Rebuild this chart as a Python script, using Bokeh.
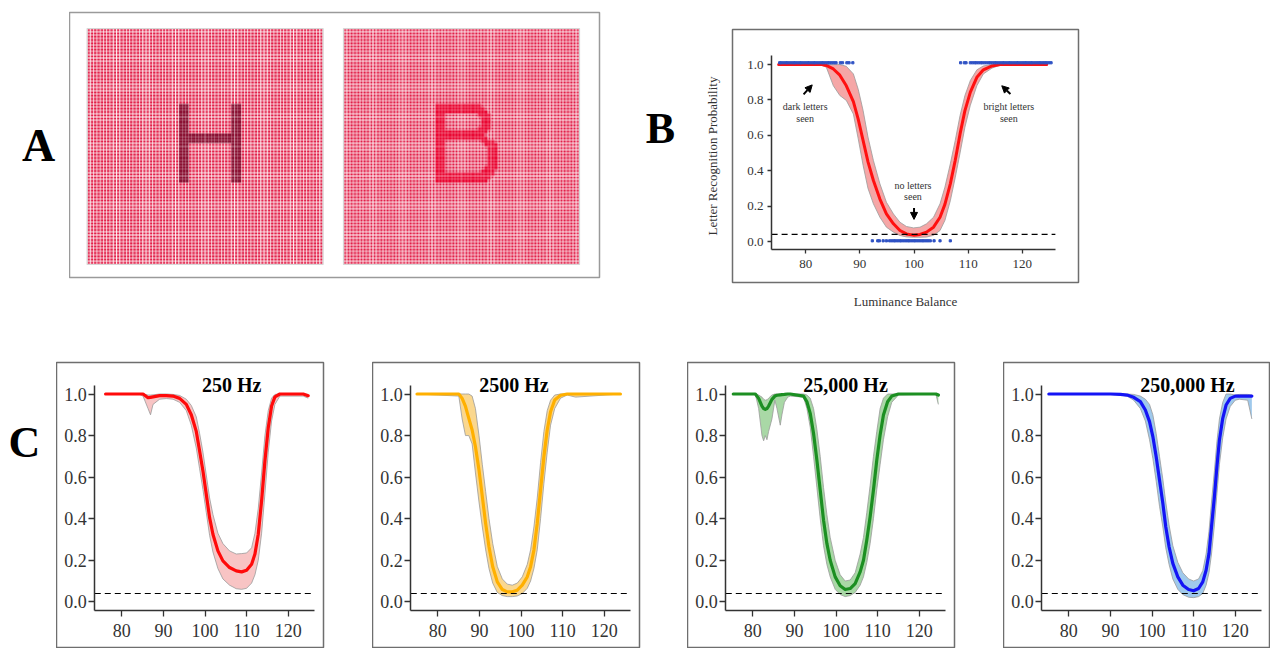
import numpy as np
from bokeh.plotting import figure
from bokeh.layouts import row, column
from bokeh.models import (Range1d, LinearAxis, FixedTicker, PrintfTickFormatter,
                          Label, Arrow, NormalHead)
from bokeh.embed import file_html
from bokeh.resources import INLINE

SERIF = "Liberation Serif"
INK = "#333333"

# ------------------------------------------------------------------ data
X_TICKS = [80, 90, 100, 110, 120]
Y_TICKS = [0.0, 0.2, 0.4, 0.6, 0.8, 1.0]
CHANCE = 0.04

# Panel A stimulus (72 x 72 dot grid, letters as dot bitmaps)
N_DOTS = 72
LETTER_ROW = 23
LETTER_COL = 28
H_BITMAP = [
    "###.............###",
    "###.............###",
    "###.............###",
    "###.............###",
    "###.............###",
    "###.............###",
    "###.............###",
    "###.............###",
    "###.............###",
    "###################",
    "###################",
    "###################",
    "###.............###",
    "###.............###",
    "###.............###",
    "###.............###",
    "###.............###",
    "###.............###",
    "###.............###",
    "###.............###",
    "###.............###",
    "###.............###",
    "###.............###",
    "###.............###",
]
B_BITMAP = [
    "##############.....",
    "###############....",
    "################...",
    "###..........####..",
    "###...........###..",
    "###...........###..",
    "###...........###..",
    "###..........####..",
    "################...",
    "###############....",
    "################...",
    "###...........####.",
    "###............####",
    "###.............###",
    "###.............###",
    "###.............###",
    "###.............###",
    "###.............###",
    "###.............###",
    "###............####",
    "###...........####.",
    "##################.",
    "#################..",
    "################...",
]

# Panel B
B_X = [75.0, 83.0, 83.8, 85.1, 86.3, 87.5, 88.8, 89.7, 90.6, 91.5,
       92.5, 93.7, 94.9, 96.2, 97.4, 98.6, 99.9, 101.1, 102.3, 103.6,
       104.8, 105.7, 106.7, 107.6, 108.5, 109.4, 110.4, 111.6, 112.8, 114.4,
       115.9, 124.5]
B_MEAN = [1.0, 1.0, 0.995, 0.975, 0.94, 0.88, 0.79, 0.69, 0.57, 0.45,
          0.345, 0.24, 0.156, 0.10, 0.062, 0.043, 0.036, 0.04, 0.053, 0.081,
          0.137, 0.21, 0.326, 0.458, 0.608, 0.74, 0.844, 0.928, 0.97, 0.992,
          1.0, 1.0]
B_LO = [1.0, 0.995, 0.985, 0.88, 0.825, 0.797, 0.72, 0.58, 0.43, 0.30,
        0.213, 0.137, 0.081, 0.053, 0.034, 0.026, 0.024, 0.024, 0.025, 0.035,
        0.062, 0.119, 0.23, 0.36, 0.50, 0.646, 0.77, 0.88, 0.947, 0.98,
        0.996, 1.0]
B_HI = [1.0, 1.0, 1.0, 1.0, 1.0, 0.99, 0.947, 0.86, 0.74, 0.59,
        0.458, 0.326, 0.222, 0.156, 0.109, 0.085, 0.077, 0.081, 0.10, 0.137,
        0.213, 0.307, 0.439, 0.57, 0.712, 0.825, 0.91, 0.97, 0.992, 1.0,
        1.0, 1.0]
# individual trials (seen = top row, not seen = bottom row)
B_SEEN_X = [75.2, 75.5, 75.9, 76.3, 76.6, 77.0, 77.4, 77.8, 78.1, 78.5, 78.9, 79.2,
            79.6, 80.0, 80.4, 80.7, 81.1, 81.5, 81.8, 82.2, 82.6, 83.0, 83.3, 83.7,
            84.1, 84.4, 84.8, 85.2, 85.6, 86.4, 86.8, 87.6, 88.0, 88.7,
            108.6, 109.3, 109.6, 110.4, 110.8, 111.2, 111.5, 111.9, 112.3, 112.6, 113.0,
            113.4, 113.8, 114.1, 114.5, 114.9, 115.2, 115.6, 116.0, 116.4, 116.7, 117.1,
            117.5, 117.8, 118.2, 118.6, 119.0, 119.3, 119.7, 120.1, 120.5, 120.8, 121.2,
            121.6, 121.9, 122.3, 122.7, 123.1, 123.4, 123.8, 124.2, 124.5, 124.9, 125.3]
B_UNSEEN_X = [92.3, 93.3, 93.6, 94.3, 94.9, 95.5, 95.9, 96.3, 96.6, 97.0, 97.4, 97.7,
              98.1, 98.5, 98.9, 99.2, 99.6, 100.0, 100.3, 100.7, 101.1, 101.5, 101.8,
              102.2, 102.6, 103.0, 103.7, 104.8, 106.7]
SEEN_Y = 1.01
UNSEEN_Y = 0.004

# Panel C
C_TITLES = ["250 Hz", "2500 Hz", "25,000 Hz", "250,000 Hz"]
C_LINE = ["#ff0a0a", "#ffb000", "#1c8f22", "#1414f5"]
C_FILL = ["#f8c4c4", "#fad78e", "#a9d8a6", "#9fc9ec"]

C1_X = [76.1, 84.3, 85.1, 86.3, 86.9, 87.5, 89.1, 90.7, 92.3, 93.9,
        95.5, 96.7, 97.9, 98.7, 99.5, 100.3, 101.1, 101.9, 103.1, 104.3,
        105.9, 107.5, 108.8, 110.0, 111.2, 112.0, 112.8, 113.6, 114.4, 115.2,
        116.0, 116.8, 118.0, 123.6, 124.8]
C1_MEAN = [1.0, 1.0, 1.0, 0.982, 0.984, 0.986, 0.992, 0.992, 0.99, 0.979,
           0.95, 0.90, 0.82, 0.726, 0.63, 0.518, 0.405, 0.325, 0.245, 0.197,
           0.165, 0.149, 0.144, 0.152, 0.181, 0.23, 0.325, 0.486, 0.678, 0.838,
           0.942, 0.986, 1.0, 1.0, 0.992]
C1_HI = [1.0, 1.0, 1.0, 0.995, 0.995, 0.996, 1.0, 1.0, 0.998, 0.993,
         0.975, 0.945, 0.89, 0.81, 0.72, 0.61, 0.50, 0.42, 0.33, 0.28,
         0.245, 0.23, 0.232, 0.235, 0.26, 0.33, 0.45, 0.62, 0.80, 0.92,
         0.98, 0.998, 1.0, 1.0, 0.998]
C1_LO = [1.0, 0.998, 0.99, 0.93, 0.90, 0.95, 0.975, 0.978, 0.975, 0.96,
         0.92, 0.85, 0.74, 0.64, 0.54, 0.43, 0.32, 0.24, 0.16, 0.11,
         0.08, 0.063, 0.06, 0.065, 0.09, 0.13, 0.20, 0.33, 0.52, 0.72,
         0.87, 0.95, 0.99, 0.99, 0.98]

C2_X = [75.0, 85.05, 85.85, 86.65, 87.45, 88.25, 89.05, 89.9, 90.7, 91.5,
        92.3, 93.2, 94.3, 95.5, 96.7, 97.9, 99.1, 100.3, 101.5, 102.3,
        103.1, 103.9, 104.7, 105.5, 106.3, 107.1, 108.1, 109.5, 111.1, 113.1,
        123.9]
C2_MEAN = [1.0, 1.0, 0.979, 0.94, 0.883, 0.827, 0.746, 0.634, 0.506, 0.377,
           0.265, 0.169, 0.096, 0.059, 0.048, 0.048, 0.056, 0.08, 0.12, 0.169,
           0.249, 0.377, 0.538, 0.698, 0.827, 0.915, 0.971, 0.994, 1.0, 1.0,
           1.0]
C2_HI = [1.0, 1.0, 1.0, 1.0, 1.0, 0.99, 0.93, 0.80, 0.66, 0.53,
         0.40, 0.28, 0.17, 0.11, 0.085, 0.08, 0.09, 0.12, 0.18, 0.25,
         0.36, 0.50, 0.67, 0.82, 0.92, 0.97, 0.995, 1.0, 1.0, 1.0,
         1.0]
C2_LO = [1.0, 0.99, 0.88, 0.80, 0.80, 0.76, 0.62, 0.48, 0.36, 0.25,
         0.16, 0.09, 0.045, 0.03, 0.025, 0.025, 0.028, 0.04, 0.065, 0.10,
         0.16, 0.25, 0.40, 0.57, 0.72, 0.85, 0.93, 0.98, 0.995, 0.985,
         1.0]

C3_X = [75.3, 80.6, 81.4, 82.2, 82.6, 83.0, 83.4, 83.8, 84.6, 85.3,
        85.8, 86.6, 87.0, 87.6, 88.4, 89.0, 92.2, 93.0, 93.8, 94.6,
        95.4, 96.2, 97.0, 97.8, 98.6, 99.8, 101.0, 102.2, 103.4, 104.6,
        105.8, 106.6, 107.4, 108.2, 109.0, 109.8, 110.6, 111.4, 112.4, 113.4,
        115.0, 124.0, 124.6]
C3_MEAN = [1.0, 1.0, 0.979, 0.942, 0.93, 0.926, 0.93, 0.942, 0.974, 0.99,
           0.994, 0.996, 0.997, 0.998, 1.0, 1.0, 0.99, 0.963, 0.907, 0.81,
           0.682, 0.538, 0.393, 0.281, 0.2, 0.12, 0.077, 0.059, 0.064, 0.088,
           0.144, 0.2, 0.297, 0.409, 0.538, 0.682, 0.803, 0.899, 0.963, 0.99,
           1.0, 1.0, 0.995]
C3_HI = [1.0, 1.0, 0.995, 0.985, 0.975, 0.97, 0.972, 0.98, 0.995, 1.0,
         1.0, 1.0, 1.0, 1.0, 1.0, 1.0, 1.0, 0.995, 0.98, 0.93,
         0.83, 0.70, 0.55, 0.42, 0.31, 0.20, 0.13, 0.10, 0.105, 0.14,
         0.23, 0.31, 0.43, 0.56, 0.70, 0.82, 0.93, 0.98, 1.0, 1.0,
         1.0, 1.0, 1.0]
C3_LO = [1.0, 1.0, 0.93, 0.80, 0.775, 0.80, 0.78, 0.82, 0.88, 0.97,
         0.93, 0.85, 0.90, 0.96, 0.985, 0.99, 0.985, 0.93, 0.84, 0.70,
         0.55, 0.40, 0.27, 0.18, 0.12, 0.06, 0.035, 0.025, 0.03, 0.045,
         0.08, 0.12, 0.19, 0.28, 0.40, 0.54, 0.66, 0.78, 0.89, 0.96,
         0.995, 1.0, 0.95]

C4_X = [75.2, 90.0, 92.4, 94.0, 95.6, 97.2, 98.4, 99.4, 100.2, 101.0,
        101.8, 102.6, 103.3, 104.1, 105.0, 106.2, 107.4, 108.8, 110.0, 111.2,
        112.2, 113.0, 113.7, 114.3, 115.0, 115.6, 116.2, 117.0, 117.8, 118.8,
        120.0, 121.0, 123.0, 124.0]
C4_MEAN = [1.0, 1.0, 0.998, 0.995, 0.984, 0.963, 0.923, 0.867, 0.795, 0.698,
           0.586, 0.474, 0.361, 0.265, 0.185, 0.12, 0.08, 0.059, 0.053, 0.064,
           0.096, 0.152, 0.233, 0.361, 0.506, 0.65, 0.778, 0.883, 0.947, 0.979,
           0.99, 0.99, 0.99, 0.99]
C4_HI = [1.0, 1.0, 1.0, 1.0, 0.998, 0.99, 0.975, 0.95, 0.90, 0.81,
         0.70, 0.59, 0.48, 0.37, 0.27, 0.19, 0.14, 0.11, 0.10, 0.11,
         0.15, 0.23, 0.34, 0.48, 0.63, 0.77, 0.88, 0.96, 1.0, 1.0,
         0.995, 0.998, 0.998, 0.995]
C4_LO = [1.0, 0.998, 0.995, 0.99, 0.97, 0.93, 0.87, 0.78, 0.69, 0.58,
         0.46, 0.36, 0.26, 0.18, 0.11, 0.06, 0.035, 0.022, 0.02, 0.025,
         0.04, 0.08, 0.14, 0.23, 0.37, 0.52, 0.66, 0.79, 0.88, 0.94,
         0.97, 0.975, 0.97, 0.88]

C_DATA = [(C1_X, C1_MEAN, C1_LO, C1_HI), (C2_X, C2_MEAN, C2_LO, C2_HI),
          (C3_X, C3_MEAN, C3_LO, C3_HI), (C4_X, C4_MEAN, C4_LO, C4_HI)]
for xs, m, lo, hi in C_DATA + [(B_X, B_MEAN, B_LO, B_HI)]:
    assert len(xs) == len(m) == len(lo) == len(hi)

TOP_H = 345
BOT_H = 303

# ------------------------------------------------------------------ helpers
def base_fig(width, height, xr, yr, left, right, top, bottom, outline="#6e6e6e"):
    p = figure(width=width, height=height, x_range=Range1d(*xr), y_range=Range1d(*yr),
               output_backend="svg", toolbar_location=None,
               x_axis_type=None, y_axis_type=None,
               min_border_left=left, min_border_right=right,
               min_border_top=top, min_border_bottom=bottom)
    p.frame_align = False
    p.outline_line_color = outline
    p.outline_line_width = 1.5
    p.border_fill_color = "white"
    p.background_fill_color = "white"
    return p


def letter_fig(width, height, x, y, text, size):
    p = base_fig(width, height, (0, width), (0, height), 0, 0, 0, 0, outline=None)
    p.add_layout(Label(x=x, y=height - y, text=text, text_font=SERIF,
                       text_font_style="bold", text_font_size=size, text_color="black",
                       text_align="center", text_baseline="middle"))
    return p


def add_axes(p, xloc, yloc, xbounds, ybounds, fsize, tick, xstand, ystand):
    yax = LinearAxis(fixed_location=xloc, bounds=ybounds,
                     ticker=FixedTicker(ticks=Y_TICKS),
                     formatter=PrintfTickFormatter(format="%.1f"))
    xax = LinearAxis(fixed_location=yloc, bounds=xbounds,
                     ticker=FixedTicker(ticks=X_TICKS))
    for ax in (yax, xax):
        ax.axis_line_color = INK
        ax.axis_line_width = 1.5
        ax.major_tick_line_color = INK
        ax.major_tick_line_width = 1.3
        ax.major_tick_out = tick
        ax.major_tick_in = 0
        ax.minor_tick_out = 0
        ax.minor_tick_in = 0
        ax.major_label_text_font = SERIF
        ax.major_label_text_font_size = fsize
        ax.major_label_text_color = INK
    yax.major_label_standoff = ystand
    xax.major_label_standoff = xstand
    p.add_layout(yax, "left")
    p.add_layout(xax, "below")


def draw_curve(p, xs, mean, lo, hi, line_color, fill_color, lw):
    p.varea(x=xs, y1=lo, y2=hi, fill_color=fill_color, fill_alpha=1.0)
    p.line(xs, lo, line_color="#9a9a9a", line_width=0.8)
    p.line(xs, hi, line_color="#9a9a9a", line_width=0.8)
    p.line(xs, mean, line_color=line_color, line_width=lw,
           line_join="round", line_cap="round")

# ------------------------------------------------------------------ panel A
BG_DOT = np.array([226, 30, 72], float)
H_DOT = np.array([138, 16, 50], float)
B_DOT = np.array([234, 6, 50], float)
SQ = 236


def stimulus(bitmap, letter_rgb, size=SQ, ss=4):
    mask = np.zeros((N_DOTS, N_DOTS), bool)
    for r, line in enumerate(bitmap):
        for c, ch in enumerate(line):
            if ch == "#":
                mask[LETTER_ROW + r, LETTER_COL + c] = True
    m = size * ss
    t = (np.arange(m) + 0.5) / m * N_DOTS
    idx = np.floor(t).astype(int)
    d = np.abs(t - idx - 0.5)
    dist = np.maximum(d[:, None], d[None, :])
    inl = mask[idx[:, None], idx[None, :]]
    covered = np.where(inl, dist < 0.46, dist < 0.37)
    col = np.where(inl[..., None], letter_rgb, BG_DOT)
    rgb = np.where(covered[..., None], col, 255.0)
    rgb = rgb.reshape(size, ss, size, ss, 3).mean(axis=(1, 3))
    rgb = np.flipud(rgb)
    img = np.empty((size, size), dtype=np.uint32)
    view = img.view(dtype=np.uint8).reshape((size, size, 4))
    view[..., :3] = np.clip(rgb, 0, 255).astype(np.uint8)
    view[..., 3] = 255
    return img


fA = letter_fig(69, TOP_H, 38, 145, "A", "46px")
pA = base_fig(571, TOP_H, (0, 530), (0, 265), 0, 41, 12, 68, outline="#9a9a9a")
imgH = stimulus(H_BITMAP, H_DOT)
imgB = stimulus(B_BITMAP, B_DOT)
SQ_LEFT = [17.6, 274.0]
SQ_BOTTOM = 13.0
pA.image_rgba(image=[imgH], x=SQ_LEFT[0], y=SQ_BOTTOM, dw=SQ, dh=SQ)
pA.image_rgba(image=[imgB], x=SQ_LEFT[1], y=SQ_BOTTOM, dw=SQ, dh=SQ)
pA.quad(left=SQ_LEFT, right=[v + SQ for v in SQ_LEFT], bottom=SQ_BOTTOM, top=SQ_BOTTOM + SQ,
        fill_color=None, line_color="#d6d6d6", line_width=1.2)

# ------------------------------------------------------------------ panel B
fB = letter_fig(61, TOP_H, 20, 128, "B", "44px")
pB = base_fig(569, TOP_H, (66.48, 130.37), (-0.2316, 1.198), 0, 192, 29, 63)
add_axes(pB, 73.7, -0.045, (73.7, 126.1), (-0.045, 1.05), "13px", 4, 7, 4)
ylab = LinearAxis(ticker=FixedTicker(ticks=[]), axis_label="Letter Recognition Probability")
xlab = LinearAxis(ticker=FixedTicker(ticks=[]), axis_label="Luminance Balance")
for ax in (ylab, xlab):
    ax.axis_line_color = None
    ax.major_tick_out = 0
    ax.major_tick_in = 0
    ax.major_label_text_font_size = "0px"
    ax.axis_label_text_font = SERIF
    ax.axis_label_text_font_style = "normal"
    ax.axis_label_text_font_size = "13px"
    ax.axis_label_text_color = INK
ylab.axis_label_standoff = 13
xlab.axis_label_standoff = 11
pB.add_layout(ylab, "left")
pB.add_layout(xlab, "below")

draw_curve(pB, B_X, B_MEAN, B_LO, B_HI, "#ff1010", "#f5a6a6", 3)
pB.line([73.7, 126.1], [CHANCE, CHANCE], line_color="black", line_width=1.2, line_dash="6 4")
pB.scatter(B_SEEN_X, [SEEN_Y] * len(B_SEEN_X), marker="square", size=2.2,
           color="#2f52c4")
pB.scatter(B_UNSEEN_X, [UNSEEN_Y] * len(B_UNSEEN_X), marker="square", size=2.2,
           color="#2f52c4")

NOTE = dict(text_font=SERIF, text_font_size="10px", text_color=INK,
            text_align="center", text_baseline="middle")
for x, y, t in [(79.9, 0.763, "dark letters"), (79.9, 0.693, "seen"),
                (99.8, 0.316, "no letters"), (99.8, 0.254, "seen"),
                (117.5, 0.763, "bright letters"), (117.5, 0.693, "seen")]:
    pB.add_layout(Label(x=x, y=y, text=t, **NOTE))
for xs, ys, xe, ye in [(79.6, 0.831, 81.2, 0.885), (100.0, 0.19, 100.0, 0.125),
                       (117.8, 0.834, 116.2, 0.88)]:
    pB.add_layout(Arrow(end=NormalHead(size=7, fill_color="black", line_color="black"),
                        x_start=xs, y_start=ys, x_end=xe, y_end=ye,
                        line_color="black", line_width=2))

# ------------------------------------------------------------------ panel C
fC = letter_fig(56, BOT_H, 24, 442 - TOP_H, "C", "44px")
C_W = [316, 315, 316, 267]
C_RIGHT = [49, 48, 49, 0]
C_TITLE_X = [106.4, 98.3, 102.3, 108.5]
C_TITLE_Y = 1.045
C_XR = (64.3, 128.48)
C_YR = (-0.2247, 1.1516)

c_figs = []
for i in range(4):
    p = base_fig(C_W[i], BOT_H, C_XR, C_YR, 0, C_RIGHT[i], 17, 0)
    add_axes(p, 73.5, -0.04, (73.5, 126.3), (-0.04, 1.04), "18px", 6, 8, 2)
    xs, m, lo, hi = C_DATA[i]
    draw_curve(p, xs, m, lo, hi, C_LINE[i], C_FILL[i], 3.2)
    p.line([73.5, 126.3], [CHANCE, CHANCE], line_color="black", line_width=1.2,
           line_dash="6 4")
    p.add_layout(Label(x=C_TITLE_X[i], y=C_TITLE_Y, text=C_TITLES[i], text_font=SERIF,
                       text_font_style="bold", text_font_size="20px", text_color="black",
                       text_align="center", text_baseline="middle"))
    c_figs.append(p)

layout = column(row(fA, pA, fB, pB), row(fC, *c_figs))
open("out.html", "w").write(file_html(layout, INLINE))
